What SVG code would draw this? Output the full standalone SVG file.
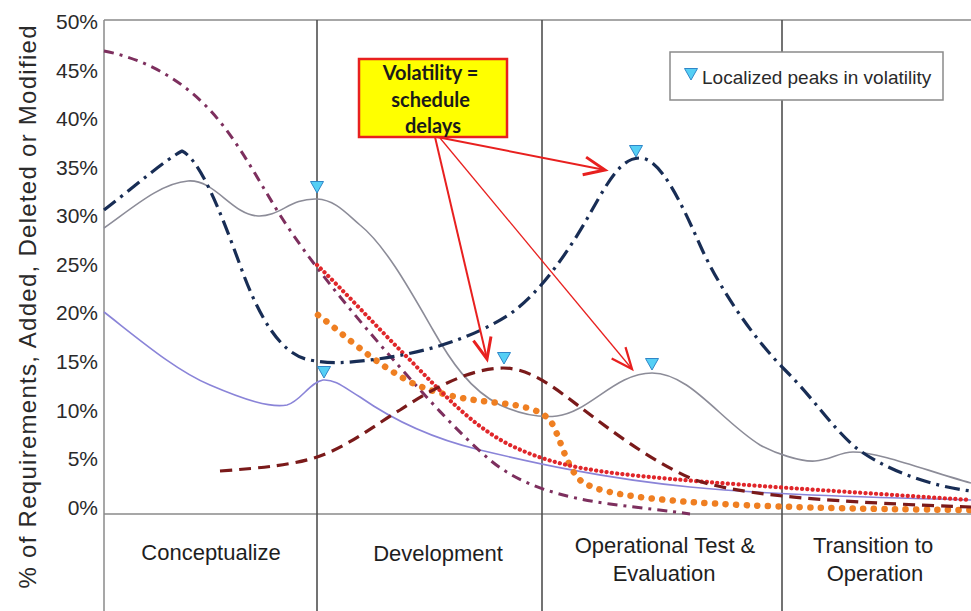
<svg xmlns="http://www.w3.org/2000/svg" width="971" height="611" viewBox="0 0 971 611">
<style>
.frame{stroke:#8a8a8a;stroke-width:1.5;fill:none}
.div{stroke:#505050;stroke-width:1.6;fill:none}
.ylab{font-family:"Liberation Sans",Arial,sans-serif;font-size:21px;fill:#2a2a2a;text-anchor:end}
.cat{font-family:"Liberation Sans",Arial,sans-serif;font-size:22px;fill:#1e1e1e;text-anchor:middle}
.s{fill:none;stroke-linejoin:round}
.gray{stroke:#8c8c98;stroke-width:1.6}
.navy{stroke:#182d55;stroke-width:3.2;stroke-dasharray:15 6 3 6}
.plum{stroke:#7d2f5e;stroke-width:3;stroke-dasharray:10 6 3 6}
.red{stroke:#e0262a;stroke-width:4.2;stroke-dasharray:0.1 5.2;stroke-linecap:round}
.orange{stroke:#ef7f22;stroke-width:6.5;stroke-dasharray:0.1 10.5;stroke-linecap:round}
.maroon{stroke:#7a1a1a;stroke-width:3.2;stroke-dasharray:12 7}
.lav{stroke:#8a84d8;stroke-width:1.6}
.arr{stroke:#e8201f;fill:none}
.tri{fill:#55cff5;stroke:#2f86c8;stroke-width:1}
</style>
<defs>
<path id="tri" class="tri" d="M-6.5,-5.5 L6.5,-5.5 L0,6 Z"/>
<marker id="ah" markerUnits="userSpaceOnUse" markerWidth="30" markerHeight="30" refX="0" refY="0" viewBox="-16 -10 20 20" orient="auto">
<path d="M-14,-6 L0,0 L-14,6" fill="none" stroke="#e8201f" stroke-width="2"/>
</marker>
<marker id="ah2" markerUnits="userSpaceOnUse" markerWidth="30" markerHeight="30" refX="0" refY="0" viewBox="-16 -10 20 20" orient="auto">
<path d="M-14,-6 L0,0 L-14,6" fill="none" stroke="#e8201f" stroke-width="1.5"/>
</marker>
</defs>
<rect width="971" height="611" fill="#ffffff"/>

<g id="axes">
<line class="frame" x1="104" y1="20" x2="971" y2="20"/>
<line class="frame" x1="104" y1="20" x2="104" y2="611"/>
<line class="frame" x1="104" y1="514" x2="971" y2="514"/>
<line class="div" x1="317" y1="20" x2="317" y2="611"/>
<line class="div" x1="542" y1="20" x2="542" y2="611"/>
<line class="div" x1="782" y1="20" x2="782" y2="611"/>
</g>

<g id="y-labels">
<text class="ylab" x="98" y="29">50%</text>
<text class="ylab" x="98" y="78">45%</text>
<text class="ylab" x="98" y="126">40%</text>
<text class="ylab" x="98" y="175">35%</text>
<text class="ylab" x="98" y="223">30%</text>
<text class="ylab" x="98" y="272">25%</text>
<text class="ylab" x="98" y="320">20%</text>
<text class="ylab" x="98" y="369">15%</text>
<text class="ylab" x="98" y="418">10%</text>
<text class="ylab" x="98" y="466">5%</text>
<text class="ylab" x="98" y="515">0%</text>
</g>
<g id="y-title">
<text transform="translate(36,307) rotate(-90)" font-family="Liberation Sans, Arial, sans-serif" font-size="24" fill="#2a2a2a" text-anchor="middle" textLength="563" lengthAdjust="spacing">% of Requirements, Added, Deleted or Modified</text>
</g>

<g id="categories">
<text class="cat" x="211" y="560">Conceptualize</text>
<text class="cat" x="438" y="561">Development</text>
<text class="cat" x="665" y="553">Operational Test &amp;</text>
<text class="cat" x="664" y="581">Evaluation</text>
<text class="cat" x="873" y="553">Transition to</text>
<text class="cat" x="875" y="581">Operation</text>
</g>

<g id="series">
<path class="s gray" d="M104,228 C130,210 160,183 188,181 C215,179 232,215 258,216 C280,217 290,198 317,199 C335,200 345,212 360,225 C385,245 410,290 433,330 C450,360 470,390 500,405 C520,414 540,418 557,416 C590,412 615,373 652,373 C690,373 720,420 760,445 C775,453 800,462 815,461 C830,460 840,452 853,452 C880,452 930,472 971,483"/>
<path class="s lav" d="M104,312 C140,340 175,370 210,385 C245,400 270,408 287,405 C300,402 310,382 323,380 C335,379 345,388 360,397 C390,418 430,438 480,450 C530,462 600,478 690,487 C760,494 850,497 971,500"/>
<path class="s plum" d="M104,51 C140,58 175,75 205,105 C235,135 255,175 280,215 C310,262 350,310 390,356 C420,390 455,430 490,460 C520,485 560,497 610,504 C640,508 670,511 690,514"/>
<path class="s orange" d="M318,315 C345,335 370,360 410,382 C440,396 470,400 500,403 C525,406 540,410 550,420 C560,435 565,465 580,480 C595,493 640,498 690,502 C760,507 850,509 971,510"/>
<path class="s red" d="M317,265 C345,292 375,325 405,355 C440,390 470,425 510,445 C545,462 580,470 640,476 C720,484 820,490 971,500"/>
<path class="s maroon" d="M220,471 C260,468 295,465 320,456 C350,445 375,425 400,410 C430,390 470,368 503,368 C530,368 555,388 580,407 C610,430 650,460 690,478 C730,493 800,501 971,507"/>
<path class="s navy" d="M104,210 C130,190 165,160 182,151 C200,160 220,210 240,265 C258,315 280,355 310,360 C330,364 345,363 370,360 C420,354 470,340 510,314 C540,293 570,250 592,210 C610,178 622,158 640,158 C660,158 680,200 700,245 C720,290 755,340 785,370 C815,400 830,425 855,447 C885,470 930,486 971,491"/>
</g>

<g id="peak-markers">
<use href="#tri" x="317" y="187"/>
<use href="#tri" x="324" y="372"/>
<use href="#tri" x="504" y="358"/>
<use href="#tri" x="636" y="151"/>
<use href="#tri" x="652" y="364"/>
</g>

<g id="legend">
<rect x="670" y="52" width="273" height="48" fill="#ffffff" stroke="#8a8a8a" stroke-width="1.5"/>
<use href="#tri" x="691" y="74"/>
<text x="702" y="84" font-family="Liberation Sans, Arial, sans-serif" font-size="19" fill="#2a2a2a">Localized peaks in volatility</text>
</g>

<g id="connectors">
<line class="arr" x1="437" y1="137" x2="605" y2="170" stroke-width="2" marker-end="url(#ah)"/>
<line class="arr" x1="435" y1="137" x2="487" y2="359" stroke-width="2" marker-end="url(#ah)"/>
<line class="arr" x1="440" y1="138" x2="632" y2="369" stroke-width="1.3" marker-end="url(#ah2)"/>
</g>

<g id="callout">
<rect x="359" y="59" width="148" height="78" fill="#ffff00" stroke="#e8201f" stroke-width="2.5"/>
<text font-family="Lato, 'Open Sans', sans-serif" font-weight="bold" font-size="20" fill="#1a1a1a" text-anchor="middle">
<tspan x="433" y="80">Volatility =</tspan>
<tspan x="433" y="107">schedule</tspan>
<tspan x="433" y="133">delays</tspan>
</text>
</g>
</svg>
